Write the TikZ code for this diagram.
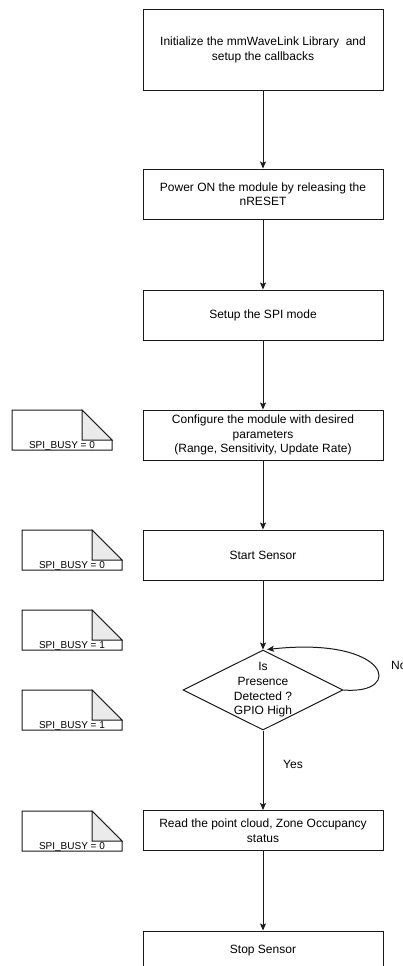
\documentclass[tikz,border=0pt]{standalone}
\usepackage{fontspec}
\setmainfont{Liberation Sans}
\usetikzlibrary{shapes.geometric,arrows.meta}
\definecolor{foldgray}{HTML}{EBEBEB}
\definecolor{linec}{HTML}{1A1A1A}
\tikzset{
 proc/.style={draw=linec, line width=1pt, fill=white, minimum width=240pt, align=center, inner sep=0pt, font=\fontsize{12}{14.5}\selectfont},
 dec/.style={draw=linec, diamond, line width=1pt, fill=white, minimum width=160pt, minimum height=80pt, inner sep=0pt, aspect=2},
 flow/.style={draw=linec, line width=1pt, -{Stealth[length=7pt,width=6pt,inset=1.5pt]}},
 notebody/.style={draw=linec, line width=1pt, fill=white, line join=miter},
 notefold/.style={draw=linec, line width=1pt, fill=foldgray, line join=miter},
 notelabel/.style={font=\fontsize{10}{12}\selectfont, inner sep=0pt, anchor=base},
 lbl/.style={font=\fontsize{12}{14.5}\selectfont, inner sep=0pt, align=center}
}
\newcommand\spinote[4]{%
 \draw[notebody] (#2,#3) -- ++(70,0) -- ++(30,30) -- ++(0,10) -- ++(-100,0) -- cycle;
 \draw[notefold] (#2+70,#3) -- ++(30,30) -- ++(-30,0) -- cycle;
 \node[notelabel] (#1) at (#2+50,#3+38) {#4};
}
\begin{document}
\begin{tikzpicture}[x=1pt,y=-1pt]
\useasboundingbox (0,0) rectangle (403,966);
\clip (0,0) rectangle (403,966);
\fill[white] (0,0) rectangle (403,966);

\node[proc, minimum height=80pt] (b1) at (263,50) {Initialize the mmWaveLink Library~ and\\setup the callbacks};
\node[proc, minimum height=50pt] (b2) at (263,194) {Power ON the module by releasing the\\nRESET};
\node[proc, minimum height=50pt] (b3) at (263,315) {Setup the SPI mode};
\node[proc, minimum height=50pt] (b4) at (263,435) {Configure the module with desired\\parameters\\(Range, Sensitivity, Update Rate)};
\node[proc, minimum height=50pt] (b5) at (263,555) {Start Sensor};
\node[dec] (d) at (263,690) {};
\node[lbl, font=\fontsize{12}{14.7}\selectfont] (dt) at (263,690) {Is\\Presence\\Detected ?\\GPIO High};
\node[proc, minimum height=40pt] (b6) at (263,830.5) {Read the point cloud, Zone Occupancy\\status};
\node[proc, minimum height=40pt] (b7) at (263,951) {Stop Sensor};

\draw[flow] (b1.south) -- (b2.north);
\draw[flow] (b2.south) -- (b3.north);
\draw[flow] (b3.south) -- (b4.north);
\draw[flow] (b4.south) -- (b5.north);
\draw[flow] (b5.south) -- (d.north);
\draw[flow] (d.east) .. controls (405,695) and (390,636) .. ([xshift=4pt]d.north);
\draw[flow] (d.south) -- (b6.north);
\draw[flow] (b6.south) -- (b7.north);

\node[lbl, anchor=west] (no) at (391,665) {No};
\node[lbl] (yes) at (293,764) {Yes};

\spinote{n1}{12}{410}{SPI\_BUSY = 0}
\spinote{n2}{22}{530}{SPI\_BUSY = 0}
\spinote{n3}{22}{610}{SPI\_BUSY = 1}
\spinote{n4}{22}{690}{SPI\_BUSY = 1}
\spinote{n5}{22}{811}{SPI\_BUSY = 0}
\end{tikzpicture}
\end{document}
